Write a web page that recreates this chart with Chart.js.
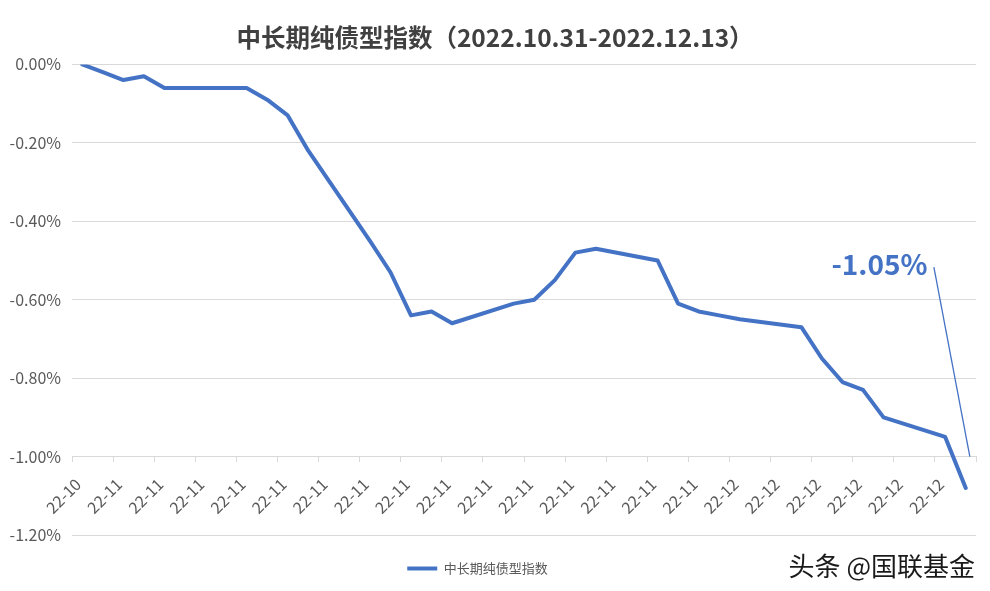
<!DOCTYPE html>
<html>
<head>
<meta charset="utf-8">
<script src="https://cdn.jsdelivr.net/npm/chart.js@4.4.0/dist/chart.umd.min.js"></script>
<style>
html,body{margin:0;padding:0;background:#ffffff;}
#wrap{width:990px;height:591px;}
</style>
</head>
<body>
<div id="wrap"><canvas id="c" width="990" height="591"></canvas></div>
<script>
// ---------------- data ----------------
const chartTitle = '中长期纯债型指数（2022.10.31-2022.12.13）';
const seriesName = '中长期纯债型指数';
const tradeDates = [
  '2022-10-31',
  '2022-11-01','2022-11-02','2022-11-03','2022-11-04',
  '2022-11-07','2022-11-08','2022-11-09','2022-11-10','2022-11-11',
  '2022-11-14','2022-11-15','2022-11-16','2022-11-17','2022-11-18',
  '2022-11-21','2022-11-22','2022-11-23','2022-11-24','2022-11-25',
  '2022-11-28','2022-11-29','2022-11-30',
  '2022-12-01','2022-12-02',
  '2022-12-05','2022-12-06','2022-12-07','2022-12-08','2022-12-09',
  '2022-12-12','2022-12-13'
];
const seriesValues = [
  0.00,
  -0.02, -0.04, -0.03, -0.06,
  -0.06, -0.06, -0.09, -0.13, -0.22,
  -0.45, -0.53, -0.64, -0.63, -0.66,
  -0.61, -0.60, -0.55, -0.48, -0.47,
  -0.50, -0.61, -0.63,
  -0.64, -0.65,
  -0.67, -0.75, -0.81, -0.83, -0.90,
  -0.95, -1.08
];
const xTickLabels = [
  '22-10','22-11','22-11','22-11','22-11','22-11','22-11','22-11',
  '22-11','22-11','22-11','22-11','22-11','22-11','22-11','22-11',
  '22-12','22-12','22-12','22-12','22-12','22-12'
];
const endLabel = '-1.05%';
const watermarkText = '头条 @国联基金';

// ---------------- helpers ----------------
const FONT = '"Noto Sans CJK SC", "Noto Sans", sans-serif';
const BLUE = '#4472C4';
const startMs = Date.parse(tradeDates[0]);
const dayIndex = s => Math.round((Date.parse(s) - startMs) / 86400000);
const points = tradeDates.map((d, i) => ({ x: dayIndex(d), y: seriesValues[i] }));
const lastDay = dayIndex(tradeDates[tradeDates.length - 1]);

// annotation placed in data coordinates
const annot = {
  text: endLabel,
  textAt: { x: 38.8, y: -0.51 },
  lineFrom: { x: 41.45, y: -0.517 },
  lineTo: { x: 43.2, y: -1.0 }
};

const overlay = {
  id: 'overlay',
  afterLayout(chart) {
    const lg = chart.legend;
    if (lg) { lg.right -= 21; }
    const tb = chart.titleBlock;
    if (tb) { tb.right += 14; }
  },
  afterDatasetsDraw(chart) {
    const { ctx, scales: { x, y } } = chart;
    ctx.save();
    ctx.strokeStyle = BLUE;
    ctx.lineWidth = 1.3;
    ctx.beginPath();
    ctx.moveTo(x.getPixelForValue(annot.lineFrom.x), y.getPixelForValue(annot.lineFrom.y));
    ctx.lineTo(x.getPixelForValue(annot.lineTo.x), y.getPixelForValue(annot.lineTo.y));
    ctx.stroke();
    ctx.font = 'bold 28px ' + FONT;
    ctx.fillStyle = BLUE;
    ctx.textAlign = 'center';
    ctx.textBaseline = 'middle';
    ctx.fillText(annot.text, x.getPixelForValue(annot.textAt.x), y.getPixelForValue(annot.textAt.y));
    ctx.restore();
  },
  afterDraw(chart) {
    const { ctx } = chart;
    ctx.save();
    ctx.font = '26px ' + FONT;
    ctx.textAlign = 'right';
    ctx.textBaseline = 'middle';
    ctx.lineWidth = 3;
    ctx.strokeStyle = 'rgba(255,255,255,0.9)';
    ctx.strokeText(watermarkText, chart.width - 15, 566);
    ctx.fillStyle = '#1a1a1a';
    ctx.fillText(watermarkText, chart.width - 15, 566);
    ctx.restore();
  }
};

new Chart(document.getElementById('c'), {
  type: 'line',
  data: {
    datasets: [{
      label: seriesName,
      data: points,
      borderColor: BLUE,
      backgroundColor: BLUE,
      borderWidth: 4,
      pointRadius: 0,
      pointHoverRadius: 0,
      tension: 0,
      fill: false,
      borderJoinStyle: 'round',
      borderCapStyle: 'round'
    }]
  },
  options: {
    responsive: false,
    animation: false,
    devicePixelRatio: 1,
    events: [],
    layout: { padding: { left: 0, right: 14, top: 10, bottom: 6 } },
    plugins: {
      title: {
        display: true,
        text: chartTitle,
        color: '#404040',
        font: { family: FONT, size: 24.5, weight: 'bold' },
        padding: { top: 13, bottom: 12 }
      },
      legend: {
        position: 'bottom',
        labels: {
          usePointStyle: true,
          pointStyle: 'line',
          pointStyleWidth: 30,
          padding: 27,
          color: '#595959',
          font: { family: FONT, size: 13 }
        }
      },
      tooltip: { enabled: false }
    },
    scales: {
      x: {
        type: 'linear',
        position: { y: -1.0 },
        min: -0.5,
        max: lastDay + 0.5,
        afterBuildTicks: axis => {
          const t = [];
          for (let k = 0; k <= xTickLabels.length; k++) t.push({ value: -0.5 + 2 * k });
          axis.ticks = t;
        },
        afterFit: s => { s.height = 0; s.paddingLeft = 0; s.paddingRight = 0; },
        grid: { drawOnChartArea: false, drawTicks: true, tickLength: 5, color: '#d9d9d9' },
        border: { display: true, color: '#d9d9d9' },
        ticks: {
          autoSkip: false,
          maxRotation: 45,
          minRotation: 45,
          labelOffset: 6,
          padding: 13,
          color: '#595959',
          font: { family: FONT, size: 16 },
          callback: (v, i) => (i < xTickLabels.length ? xTickLabels[i] : '')
        }
      },
      y: {
        min: -1.2,
        max: 0,
        afterFit: s => { s.width = 72; s.paddingTop = 0; s.paddingBottom = 0; },
        grid: { color: '#d9d9d9', drawTicks: false },
        border: { display: false },
        ticks: {
          stepSize: 0.2,
          padding: 11,
          color: '#595959',
          font: { family: FONT, size: 16 },
          callback: v => (Math.abs(v) < 1e-9 ? 0 : v).toFixed(2) + '%'
        }
      }
    }
  },
  plugins: [overlay]
});
</script>
</body>
</html>
